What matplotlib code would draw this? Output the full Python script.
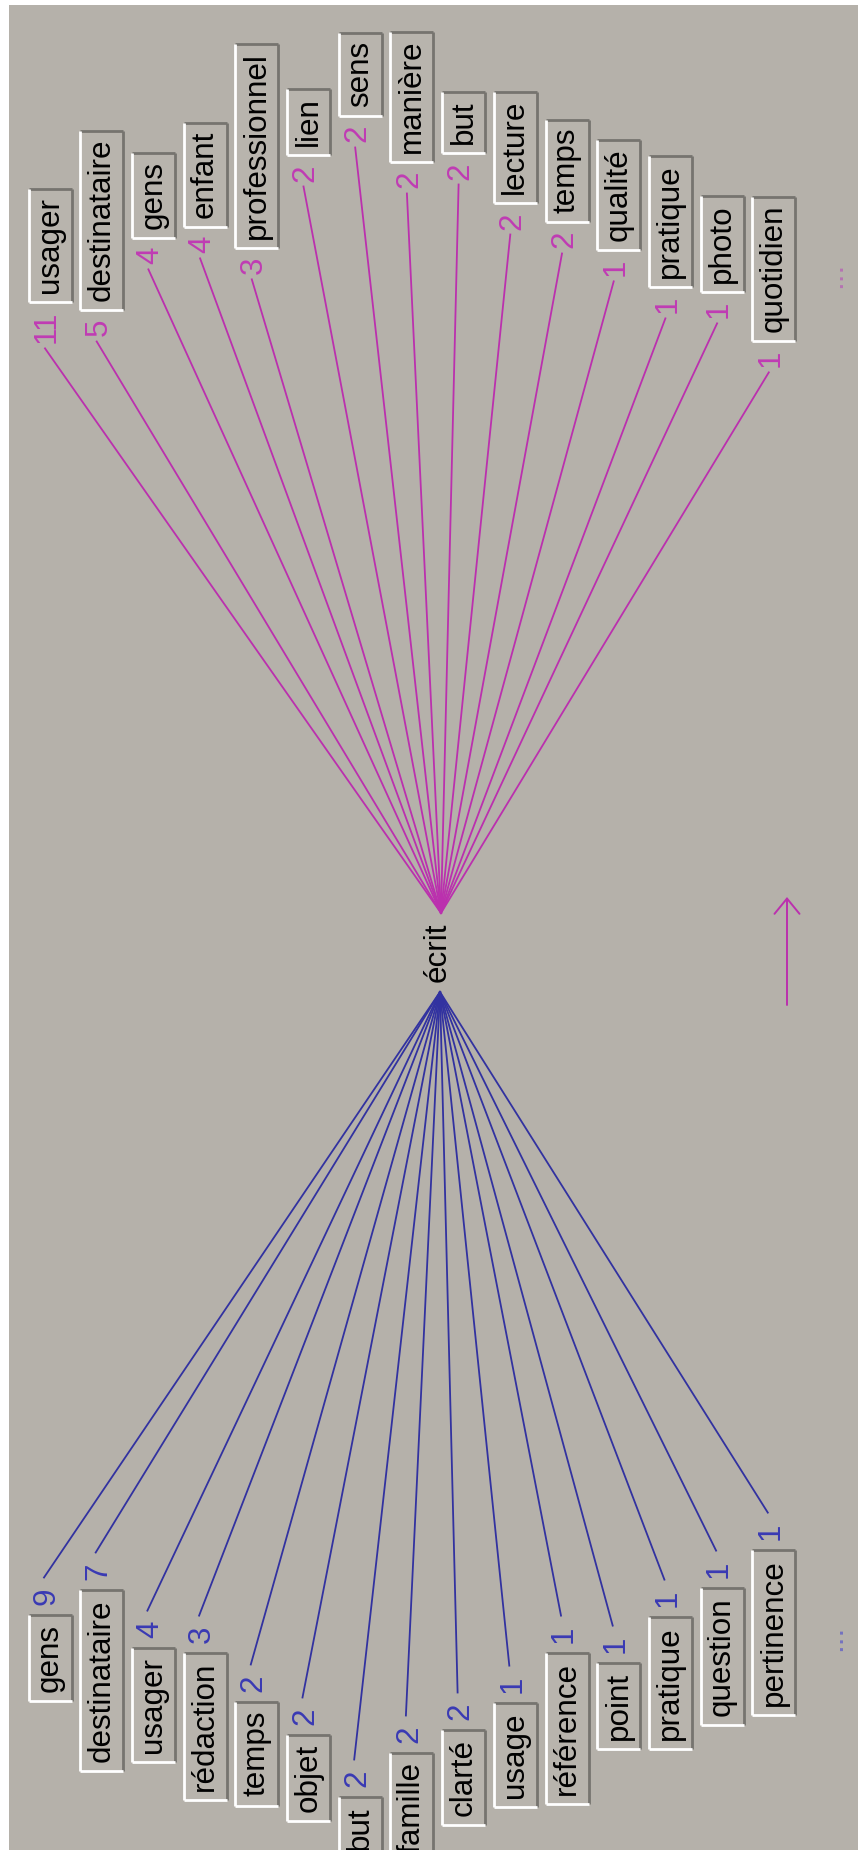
import matplotlib
matplotlib.use("Agg")
import matplotlib.pyplot as plt
from matplotlib.patches import Rectangle

# ---------------- data ----------------
pivot_word = "écrit"

before_words = ["gens", "destinataire", "usager", "rédaction", "temps", "objet", "but",
                "famille", "clarté", "usage", "référence", "point", "pratique",
                "question", "pertinence"]
before_counts = [9, 7, 4, 3, 2, 2, 2, 2, 2, 1, 1, 1, 1, 1, 1]

after_words = ["usager", "destinataire", "gens", "enfant", "professionnel", "lien", "sens",
               "manière", "but", "lecture", "temps", "qualité", "pratique", "photo",
               "quotidien"]
after_counts = [11, 5, 4, 4, 3, 2, 2, 2, 2, 2, 2, 1, 1, 1, 1]

# ---------------- layout (pixel space) ----------------
W, H = 858, 1850
COL0, COLSTEP = 50.0, 51.7
after_box_edge = [302, 310, 238, 227, 248, 155, 116, 162, 153, 203, 222, 250, 287, 292, 341]
before_box_edge = [1615, 1590, 1648, 1653, 1702, 1735, 1797, 1753, 1730, 1703, 1653, 1663,
                   1617, 1588, 1550]
after_apex = (441, 913)
before_apex = (440, 992)

BG = "#b5b1aa"
BOXFC = "#b8b4ad"
DARK = "#76746f"
MAG = "#bb30ae"
MAGTXT = "#c03cb4"
BLUE = "#3232a0"
BLUETXT = "#3a3ab4"
FONT = ["Liberation Sans", "DejaVu Sans"]
FS = 22.6  # points at dpi 100 (~31.5 px)

fig = plt.figure(figsize=(W / 100, H / 100), dpi=100)
fig.patch.set_facecolor("white")
ax = fig.add_axes([0, 0, 1, 1])
ax.set_xlim(0, W)
ax.set_ylim(H, 0)
ax.axis("off")
ax.add_patch(Rectangle((9, 5), W - 9, H - 5, facecolor=BG, edgecolor="none", zorder=0))

renderer = fig.canvas.get_renderer()
inv = ax.transData.inverted()


def extent(t):
    bb = t.get_window_extent(renderer)
    (x0, y0), (x1, y1) = inv.transform([[bb.x0, bb.y0], [bb.x1, bb.y1]])
    return min(x0, x1), max(x0, x1), min(y0, y1), max(y0, y1)


def draw_box(cx, top, bottom):
    x0, x1 = cx - 21.5, cx + 21.5
    ax.add_patch(Rectangle((x0, top), x1 - x0, bottom - top, facecolor=BOXFC,
                           edgecolor="none", zorder=2))
    lw = 2.0
    ax.plot([x0, x1], [top, top], color=DARK, lw=lw, zorder=2.5, solid_capstyle="butt")
    ax.plot([x1, x1], [top, bottom], color=DARK, lw=lw, zorder=2.5, solid_capstyle="butt")
    ax.plot([x0, x0], [top, bottom], color="white", lw=lw, zorder=2.6, solid_capstyle="butt")
    ax.plot([x0, x1], [bottom, bottom], color="white", lw=lw, zorder=2.6, solid_capstyle="butt")


# ---- words after the pivot (top, magenta) ----
for i, (w, n) in enumerate(zip(after_words, after_counts)):
    cx = COL0 + i * COLSTEP
    edge = after_box_edge[i]
    tw = ax.text(cx, edge - 9, w, rotation=90, ha="center", va="bottom", fontsize=FS,
                 family=FONT, color="black", zorder=3)
    _, _, wy0, _ = extent(tw)
    draw_box(cx, wy0 - 8, edge)
    tn = ax.text(cx - 3, edge + 9, str(n), rotation=90, ha="center", va="top", fontsize=FS,
                 family=FONT, color=MAGTXT, zorder=3)
    _, _, _, ny1 = extent(tn)
    ax.plot([cx - 5, after_apex[0]], [ny1 + 5, after_apex[1]], color=MAG,
            lw=1.3, zorder=1)

# ---- words before the pivot (bottom, blue) ----
for i, (w, n) in enumerate(zip(before_words, before_counts)):
    cx = COL0 + i * COLSTEP
    edge = before_box_edge[i]
    tw = ax.text(cx, edge + 9, w, rotation=90, ha="center", va="top", fontsize=FS,
                 family=FONT, color="black", zorder=3)
    _, _, _, wy1 = extent(tw)
    draw_box(cx, edge, wy1 + 9)
    tn = ax.text(cx - 3, edge - 10, str(n), rotation=90, ha="center", va="bottom", fontsize=FS,
                 family=FONT, color=BLUETXT, zorder=3)
    _, _, ny0, _ = extent(tn)
    ax.plot([cx - 6, before_apex[0]], [ny0 - 10, before_apex[1]], color=BLUE,
            lw=1.3, zorder=1)

# continuation marks
ax.text(COL0 + 15.15 * COLSTEP, 275, "...", rotation=90, ha="center", va="center",
        fontsize=FS, family=FONT, color="#b673b3", zorder=3)
ax.text(COL0 + 15.15 * COLSTEP, 1638, "...", rotation=90, ha="center", va="center",
        fontsize=FS, family=FONT, color="#7472c0", zorder=3)

# pivot word
ax.text(438, 952, pivot_word, rotation=90, ha="center", va="center", fontsize=FS,
        family=FONT, color="black", zorder=3)

# direction arrow
ax.annotate("", xy=(787, 897), xytext=(787, 1005),
            arrowprops=dict(arrowstyle="->,head_length=0.55,head_width=0.45",
                            mutation_scale=20, color=MAG, lw=1.4, shrinkA=0, shrinkB=0))

fig.savefig("out.png", dpi=100, facecolor="white")
